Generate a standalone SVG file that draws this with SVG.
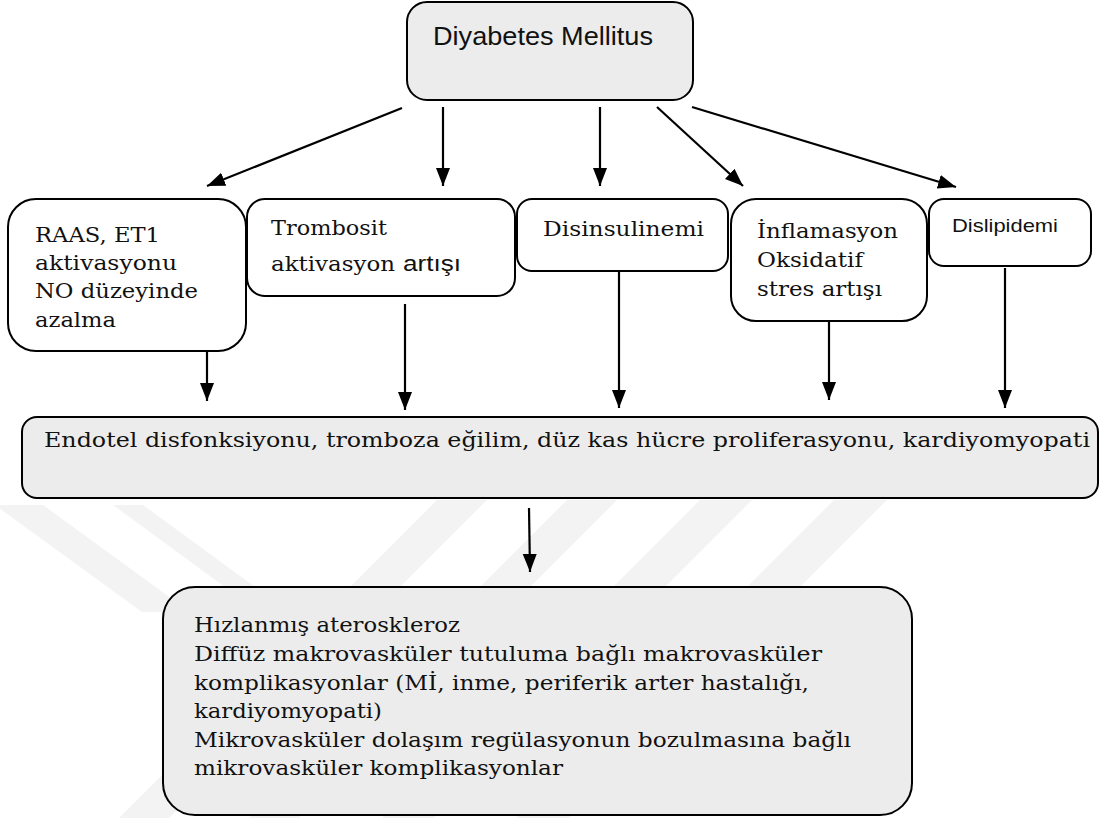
<svg xmlns="http://www.w3.org/2000/svg" width="1104" height="818" viewBox="0 0 1104 818">
<style>
.box{stroke:#000;stroke-width:2}
.gray{fill:#ececec}
.white{fill:#fff}
.serif{font-family:"DejaVu Serif","Liberation Serif",serif;font-size:20px;fill:#111}
.sans{font-family:"Liberation Sans","Open Sans",sans-serif;fill:#111}
.wm{fill:#f3f3f3}
.conn{stroke:#000;stroke-width:2.2;fill:none;marker-end:url(#ah)}
</style>
<defs>
<marker id="ah" markerUnits="userSpaceOnUse" markerWidth="20" markerHeight="16" refX="18" refY="7" orient="auto">
<path d="M0,0 L18,7 L0,14 z" fill="#000"/>
</marker>
</defs>
<rect width="1104" height="818" fill="#fff"/>
<g id="watermark">
<polygon class="wm" points="437,500 487,500 169,818 119,818"/>
<polygon class="wm" points="567,500 617,500 299,818 249,818"/>
<polygon class="wm" points="700,500 752,500 434,818 382,818"/>
<polygon class="wm" points="834,500 887,500 569,818 516,818"/>
<polygon class="wm" points="-5,505 43,505 190,612 142,612"/>
<polygon class="wm" points="113,505 143,505 255,587 225,587"/>
</g>
<g id="connectors">
<line class="conn" x1="402" y1="108" x2="207" y2="186"/>
<line class="conn" x1="443" y1="107" x2="443" y2="186"/>
<line class="conn" x1="600" y1="107" x2="600" y2="186"/>
<line class="conn" x1="657" y1="107" x2="743" y2="186"/>
<line class="conn" x1="692" y1="107" x2="956" y2="187"/>
<line class="conn" x1="207" y1="351" x2="207" y2="401"/>
<line class="conn" x1="405" y1="304" x2="405" y2="410"/>
<line class="conn" x1="619" y1="265" x2="619" y2="408"/>
<line class="conn" x1="829" y1="310" x2="829" y2="400"/>
<line class="conn" x1="1005" y1="268" x2="1005" y2="408"/>
<line class="conn" x1="529" y1="508" x2="530" y2="572"/>
</g>
<g id="n-dm">
<rect class="box gray" x="407" y="2" width="286" height="98" rx="20"/>
<text class="sans" x="433" y="45" font-size="26" textLength="220" lengthAdjust="spacingAndGlyphs">Diyabetes Mellitus</text>
</g>
<g id="n-raas">
<rect class="box white" x="8" y="199" width="238" height="152" rx="28"/>
<text class="serif" font-size="21"><tspan x="35" y="242" textLength="125" lengthAdjust="spacingAndGlyphs">RAAS, ET1</tspan><tspan x="35" y="270" textLength="142" lengthAdjust="spacingAndGlyphs">aktivasyonu</tspan><tspan x="35" y="298" textLength="163" lengthAdjust="spacingAndGlyphs">NO düzeyinde</tspan><tspan x="35" y="327" textLength="81" lengthAdjust="spacingAndGlyphs">azalma</tspan></text>
</g>
<g id="n-tromb">
<rect class="box white" x="247" y="199" width="268" height="97" rx="18"/>
<text class="serif" font-size="21"><tspan x="271" y="235" textLength="116" lengthAdjust="spacingAndGlyphs">Trombosit</tspan><tspan x="271" y="271" textLength="124" lengthAdjust="spacingAndGlyphs">aktivasyon</tspan></text>
<text class="sans" x="403" y="271" font-size="22" textLength="58" lengthAdjust="spacingAndGlyphs">artışı</text>
</g>
<g id="n-disins">
<rect class="box white" x="517" y="199" width="211" height="72" rx="15"/>
<text class="serif" x="543" y="236" font-size="21" textLength="161" lengthAdjust="spacingAndGlyphs">Disinsulinemi</text>
</g>
<g id="n-infl">
<rect class="box white" x="731" y="199" width="196" height="122" rx="25"/>
<text class="serif" font-size="21"><tspan x="757" y="238" textLength="141" lengthAdjust="spacingAndGlyphs">İnflamasyon</tspan><tspan x="757" y="267" textLength="106" lengthAdjust="spacingAndGlyphs">Oksidatif</tspan><tspan x="757" y="296" textLength="125" lengthAdjust="spacingAndGlyphs">stres artışı</tspan></text>
</g>
<g id="n-dislip">
<rect class="box white" x="929" y="199" width="162" height="67" rx="15"/>
<text class="sans" x="952" y="232" font-size="19" textLength="106" lengthAdjust="spacingAndGlyphs">Dislipidemi</text>
</g>
<g id="n-endotel">
<rect class="box gray" x="22" y="417" width="1076" height="81" rx="15"/>
<text class="serif" x="44" y="447" font-size="20" textLength="1046" lengthAdjust="spacingAndGlyphs">Endotel disfonksiyonu, tromboza eğilim, düz kas hücre proliferasyonu, kardiyomyopati</text>
</g>
<g id="n-result">
<rect class="box gray" x="163" y="587" width="749" height="228" rx="32"/>
<text class="serif" font-size="21"><tspan x="194" y="632" textLength="266" lengthAdjust="spacingAndGlyphs">Hızlanmış ateroskleroz</tspan><tspan x="194" y="661" textLength="628" lengthAdjust="spacingAndGlyphs">Diffüz makrovasküler tutuluma bağlı makrovasküler</tspan><tspan x="194" y="690" textLength="615" lengthAdjust="spacingAndGlyphs">komplikasyonlar (Mİ, inme, periferik arter hastalığı,</tspan><tspan x="194" y="718" textLength="188" lengthAdjust="spacingAndGlyphs">kardiyomyopati)</tspan><tspan x="194" y="747" textLength="657" lengthAdjust="spacingAndGlyphs">Mikrovasküler dolaşım regülasyonun bozulmasına bağlı</tspan><tspan x="194" y="775" textLength="369" lengthAdjust="spacingAndGlyphs">mikrovasküler komplikasyonlar</tspan></text>
</g>
</svg>
